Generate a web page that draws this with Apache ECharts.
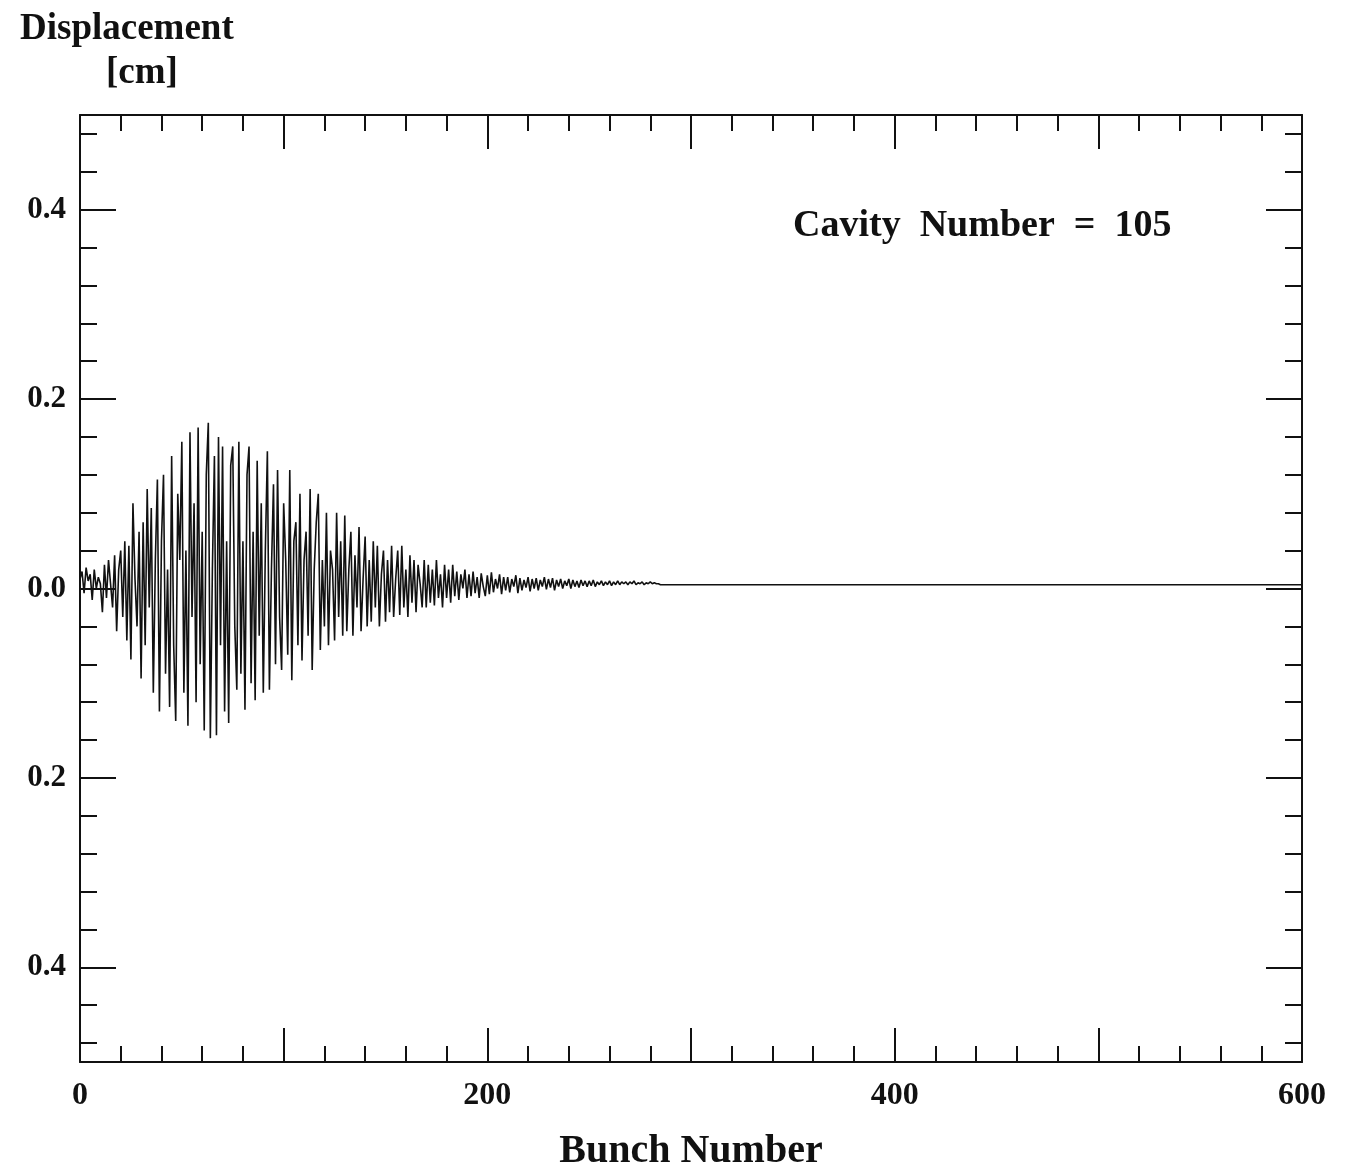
<!DOCTYPE html>
<html>
<head>
<meta charset="utf-8">
<title>Displacement vs Bunch Number</title>
<script src="https://cdn.jsdelivr.net/npm/echarts@6/dist/echarts.min.js"></script>
<style>
  html, body { margin: 0; padding: 0; background: #fff; }
  #chartBox { width: 1352px; height: 1167px; }
</style>
</head>
<body>
<div id="chartBox"></div>
<script>
// displacement [cm] per bunch (bunch 0..99)
const displacementEarly = [
  0.010, 0.018, -0.005, 0.022, 0.008, 0.015, -0.012, 0.020, 0.000, 0.012,
  0.005, -0.025, 0.025, -0.010, 0.030, 0.005, -0.020, 0.035, -0.045, 0.020,
  0.040, -0.030, 0.050, -0.055, 0.045, -0.075, 0.090, 0.010, -0.040, 0.060,
  -0.095, 0.070, -0.060, 0.105, -0.020, 0.085, -0.110, 0.030, 0.115, -0.130,
  0.050, 0.120, -0.090, 0.020, -0.125, 0.140, -0.060, -0.140, 0.100, 0.030,
  0.155, -0.110, 0.040, -0.145, 0.165, -0.030, 0.090, -0.120, 0.170, -0.080,
  0.060, -0.150, 0.120, 0.175, -0.158, 0.020, 0.140, -0.155, 0.160, -0.060,
  0.150, -0.130, 0.050, -0.142, 0.130, 0.150, -0.040, -0.107, 0.155, -0.090,
  0.050, -0.128, 0.120, 0.150, -0.100, 0.060, -0.118, 0.135, -0.050, 0.090,
  -0.110, 0.040, 0.145, -0.107, 0.020, 0.110, -0.080, 0.125, -0.030, -0.086
];
// bunch 100..199
const displacementMid = [
  0.090, 0.030, -0.070, 0.125, -0.097, 0.050, 0.070, -0.060, 0.100, -0.076,
  0.030, 0.060, -0.050, 0.105, -0.086, 0.020, 0.070, 0.100, -0.065, 0.030,
  -0.040, 0.080, -0.060, 0.040, 0.020, -0.055, 0.080, -0.030, 0.050, -0.050,
  0.077, -0.045, 0.020, 0.060, -0.050, 0.035, -0.020, 0.065, -0.045, 0.010,
  0.055, -0.040, 0.030, -0.035, 0.050, -0.020, 0.045, -0.040, 0.015, 0.040,
  -0.035, 0.030, -0.025, 0.045, -0.030, 0.010, 0.040, -0.028, 0.045, -0.020,
  0.020, -0.030, 0.035, -0.015, 0.030, -0.025, 0.025, 0.005, -0.020, 0.030,
  -0.020, 0.025, -0.015, 0.020, -0.018, 0.030, -0.010, 0.015, -0.020, 0.025,
  -0.010, 0.020, -0.015, 0.025, -0.008, 0.018, -0.012, 0.015, 0.000, 0.020,
  -0.010, 0.015, -0.008, 0.018, -0.005, 0.012, -0.010, 0.016, 0.002, -0.008
];
// bunch 200..285
const displacementLate = [
  0.014, -0.006, 0.017, -0.004, 0.010, 0.000, 0.015, -0.006, 0.012, -0.002,
  0.012, -0.004, 0.010, 0.002, 0.014, -0.005, 0.011, -0.002, 0.009, 0.001,
  0.012, -0.003, 0.010, 0.000, 0.011, -0.002, 0.009, 0.002, 0.012, -0.001,
  0.010, 0.001, 0.011, -0.002, 0.009, 0.002, 0.010, 0.000, 0.008, 0.003,
  0.010, 0.000, 0.009, 0.002, 0.008, 0.001, 0.009, 0.003, 0.008, 0.002,
  0.008, 0.003, 0.009, 0.002, 0.007, 0.004, 0.008, 0.003, 0.007, 0.004,
  0.008, 0.003, 0.007, 0.004, 0.008, 0.004, 0.007, 0.005, 0.007, 0.004,
  0.007, 0.005, 0.008, 0.004, 0.006, 0.005, 0.007, 0.004, 0.006, 0.005,
  0.007, 0.005, 0.006, 0.005, 0.005, 0.004
];
// flat tail after the oscillation dies out
const tailBunch = [286, 600];
const tailValue = [0.004, 0.004];

const xLabels = [0, 200, 400, 600];
const yMajorTicks = [-0.4, -0.2, 0, 0.2, 0.4];
const yMinorTicks = [-0.48, -0.44, -0.36, -0.32, -0.28, -0.24, -0.16, -0.12, -0.08, -0.04,
                     0.04, 0.08, 0.12, 0.16, 0.24, 0.28, 0.32, 0.36, 0.44, 0.48];

const allValues = displacementEarly.concat(displacementMid, displacementLate);
const lineData = allValues.map((v, i) => [i, v]);
for (let k = 0; k < tailBunch.length; k++) lineData.push([tailBunch[k], tailValue[k]]);

const font = 'Liberation Serif';
const black = '#111';

function xAxisCfg(pos, showLabel) {
  return {
    type: 'value', position: pos, min: 0, max: 600, interval: 100,
    axisLine: {show: true, onZero: false, lineStyle: {color: black, width: 2}},
    axisTick: {show: true, inside: true, length: 34, lineStyle: {color: black, width: 2}},
    minorTick: {show: true, splitNumber: 5, length: 16, lineStyle: {color: black, width: 2}},
    axisLabel: {
      show: showLabel, customValues: xLabels, margin: 18,
      fontFamily: font, fontWeight: 'bold', fontSize: 32, color: black
    },
    splitLine: {show: false}, minorSplitLine: {show: false},
    name: showLabel ? 'Bunch Number' : '',
    nameLocation: 'middle', nameGap: 70,
    nameTextStyle: {fontFamily: font, fontWeight: 'bold', fontSize: 40, color: black}
  };
}

function yAxisCfg(pos, ticks, len, showLine, showLabel) {
  return {
    type: 'value', position: pos, offset: 0, min: -0.5, max: 0.5,
    axisLine: {show: showLine, onZero: false, lineStyle: {color: black, width: 2}},
    axisTick: {show: true, inside: true, customValues: ticks, length: len, lineStyle: {color: black, width: 2}},
    axisLabel: {
      show: showLabel, customValues: yMajorTicks, margin: 14,
      fontFamily: font, fontWeight: 'bold', fontSize: 31, color: black,
      formatter: v => Math.abs(v).toFixed(1)
    },
    splitLine: {show: false}
  };
}

const chart = echarts.init(document.getElementById('chartBox'));
chart.setOption({
  backgroundColor: '#fff',
  animation: false,
  grid: {left: 80, right: 50, top: 115, bottom: 105, outerBoundsMode: 'none'},
  xAxis: [xAxisCfg('bottom', true), xAxisCfg('top', false)],
  yAxis: [
    yAxisCfg('left', yMajorTicks, 36, true, true),
    yAxisCfg('left', yMinorTicks, 17, false, false),
    yAxisCfg('right', yMajorTicks, 36, true, false),
    yAxisCfg('right', yMinorTicks, 17, false, false)
  ],
  graphic: [
    {type: 'text', left: 20, top: 11,
     style: {text: 'Displacement', font: 'bold 37px "Liberation Serif"', fill: black}},
    {type: 'text', left: 106, top: 55,
     style: {text: '[cm]', font: 'bold 37px "Liberation Serif"', fill: black}},
    {type: 'text', left: 793, top: 207,
     style: {text: 'Cavity  Number  =  105', font: 'bold 38px "Liberation Serif"', fill: black}}
  ],
  series: [{
    type: 'line',
    xAxisIndex: 0,
    yAxisIndex: 0,
    data: lineData,
    showSymbol: false,
    lineStyle: {color: black, width: 1.6},
    silent: true
  }]
});
</script>
</body>
</html>
